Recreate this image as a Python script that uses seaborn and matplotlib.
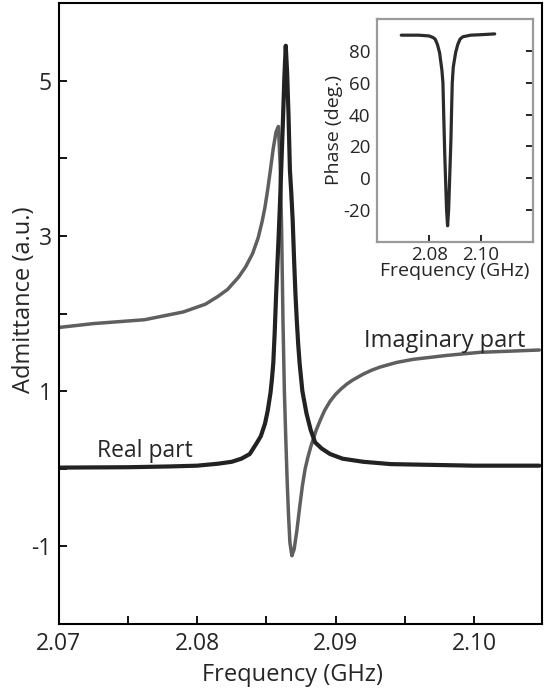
import numpy as np
import pandas as pd
import matplotlib
matplotlib.use("Agg")
import matplotlib.pyplot as plt
import seaborn as sns

# ---- data ----
real_freq = [2.0700, 2.0750, 2.0780, 2.0800, 2.0815, 2.0825, 2.0832, 2.0838,
             2.0843, 2.0846, 2.0849, 2.0851, 2.0853, 2.0854, 2.0855, 2.0856,
             2.0857, 2.0858, 2.0859, 2.0860, 2.0861, 2.0862, 2.0863, 2.0864,
             2.0865, 2.0866, 2.0867, 2.0868, 2.0869, 2.0870, 2.0871, 2.0872,
             2.0873, 2.0874, 2.0876, 2.0879, 2.0882, 2.08852, 2.0890, 2.0896,
             2.0905, 2.0920, 2.0940, 2.0970, 2.1000, 2.1047]
real_vals = [0.015, 0.02, 0.03, 0.04, 0.065, 0.09, 0.13, 0.19,
             0.33, 0.42, 0.58, 0.75, 0.98, 1.15, 1.36, 1.75,
             2.22, 2.65, 3.05, 3.50, 4.00, 4.50, 5.05, 5.45,
             5.10, 4.55, 3.85, 3.55, 3.20, 2.70, 2.25, 1.90,
             1.60, 1.36, 1.00, 0.71, 0.50, 0.34, 0.26, 0.19,
             0.13, 0.09, 0.06, 0.05, 0.04, 0.04]

imag_freq = [2.0700, 2.0725, 2.0762, 2.0790, 2.0806, 2.0815, 2.0822, 2.0830,
             2.0835, 2.0840, 2.0844, 2.0847, 2.0849, 2.0851, 2.0853, 2.0855,
             2.0857, 2.08587, 2.0860, 2.0861, 2.0862, 2.0863, 2.0864, 2.0865,
             2.0866, 2.0867, 2.08684, 2.0870, 2.0872, 2.0874, 2.0876, 2.0878,
             2.0880, 2.0882, 2.0884, 2.0886, 2.0889, 2.0892, 2.0896, 2.0900,
             2.0904, 2.0908, 2.0912, 2.0920, 2.0926, 2.0932, 2.0944, 2.0956,
             2.0980, 2.1004, 2.1047]
imag_vals = [1.82, 1.87, 1.92, 2.02, 2.12, 2.22, 2.31, 2.47,
             2.60, 2.77, 2.97, 3.19, 3.37, 3.60, 3.86, 4.13,
             4.34, 4.41, 3.90, 3.10, 1.90, 1.00, 0.40, -0.15,
             -0.60, -0.95, -1.12, -1.04, -0.80, -0.50, -0.22, 0.00,
             0.15, 0.28, 0.39, 0.50, 0.63, 0.75, 0.87, 0.96,
             1.03, 1.09, 1.14, 1.22, 1.27, 1.31, 1.37, 1.41,
             1.46, 1.50, 1.53]

phase_freq = [2.0692, 2.0760, 2.0800, 2.0815, 2.0823, 2.0832, 2.0840, 2.0849,
              2.0853, 2.0856, 2.0860, 2.0863, 2.0867, 2.0871, 2.0875, 2.0879,
              2.0884, 2.0886, 2.0889, 2.0893, 2.0902, 2.0910, 2.0919, 2.0930,
              2.0960, 2.1000, 2.1053]
phase_vals = [90.0, 90.0, 89.5, 88.5, 87.5, 84.0, 79.0, 68.0,
              60.0, 40.0, 15.0, 0.0, -20.0, -30.0, -20.0, 0.0,
              25.0, 40.0, 60.0, 70.0, 79.0, 84.0, 87.5, 89.0,
              90.0, 90.3, 90.8]

main_xticks = [2.07, 2.08, 2.09, 2.10]
main_xtick_labels = ["2.07", "2.08", "2.09", "2.10"]
main_yticks = [-1, 1, 3, 5]
main_ytick_labels = ["-1", "1", "3", "5"]
inset_xticks = [2.08, 2.10]
inset_xtick_labels = ["2.08", "2.10"]
inset_yticks = [-20, 0, 20, 40, 60, 80]
inset_ytick_labels = ["-20", "0", "20", "40", "60", "80"]

real_df = pd.DataFrame({"f": real_freq, "v": real_vals})
imag_df = pd.DataFrame({"f": imag_freq, "v": imag_vals})
phase_df = pd.DataFrame({"f": phase_freq, "v": phase_vals})

sns.set_theme(style="ticks")
plt.rcParams["font.family"] = ["Open Sans", "DejaVu Sans"]
plt.rcParams["xtick.direction"] = "in"
plt.rcParams["ytick.direction"] = "in"

fig = plt.figure(figsize=(5.47, 6.89), dpi=100)
ax = fig.add_axes([0.107, 0.0943, 0.884, 0.9013])

sns.lineplot(data=imag_df, x="f", y="v", ax=ax, color="#5f5f5f", lw=2.5)
sns.lineplot(data=real_df, x="f", y="v", ax=ax, color="#222222", lw=3.0)

ax.set_xlim(2.07, 2.1049)
ax.set_ylim(-2, 6)
ax.set_xticks(main_xticks)
ax.set_xticklabels(main_xtick_labels)
ax.set_xticks([2.075, 2.085, 2.095], minor=True)
ax.set_yticks(main_yticks)
ax.set_yticklabels(main_ytick_labels)
ax.set_yticks([0, 2, 4], minor=True)
ax.tick_params(axis="both", which="both", direction="in", length=6, width=1.3,
               color="black", labelsize=16.5, top=False, right=False, pad=6)
ax.tick_params(axis="y", which="both", pad=5)
for s in ax.spines.values():
    s.set_color("black")
    s.set_linewidth(1.5)
ax.set_xlabel("Frequency (GHz)", fontsize=17)
ax.set_ylabel("Admittance (a.u.)", fontsize=17)
ax.xaxis.set_label_coords(0.483, -0.062)
ax.yaxis.set_label_coords(-0.046, 0.522)

ax.text(2.07276, 0.153, "Real part", fontsize=16.5, ha="left", va="baseline")
ax.text(2.09206, 1.563, "Imaginary part", fontsize=17, ha="left", va="baseline")

# inset
ins = fig.add_axes([0.690, 0.6492, 0.284, 0.3228])
sns.lineplot(data=phase_df, x="f", y="v", ax=ins, color="#2b2b2b", lw=2.3)
ins.set_xlim(2.06, 2.12)
ins.set_ylim(-40, 100)
ins.set_xticks(inset_xticks)
ins.set_xticklabels(inset_xtick_labels)
ins.set_yticks(inset_yticks)
ins.set_yticklabels(inset_ytick_labels)
ins.tick_params(axis="both", which="both", direction="in", length=5, width=1.2,
                color="black", labelsize=13.5, pad=3)
ins.tick_params(axis="y", left=False, right=True, labelleft=True, pad=5)
for s in ins.spines.values():
    s.set_color("#9a9a9a")
    s.set_linewidth(1.6)
ins.set_xlabel("Frequency (GHz)", fontsize=14, labelpad=-1)
ins.set_ylabel("Phase (deg.)", fontsize=14, labelpad=0)
ins.set_facecolor("white")

fig.savefig("out.png", dpi=100)
